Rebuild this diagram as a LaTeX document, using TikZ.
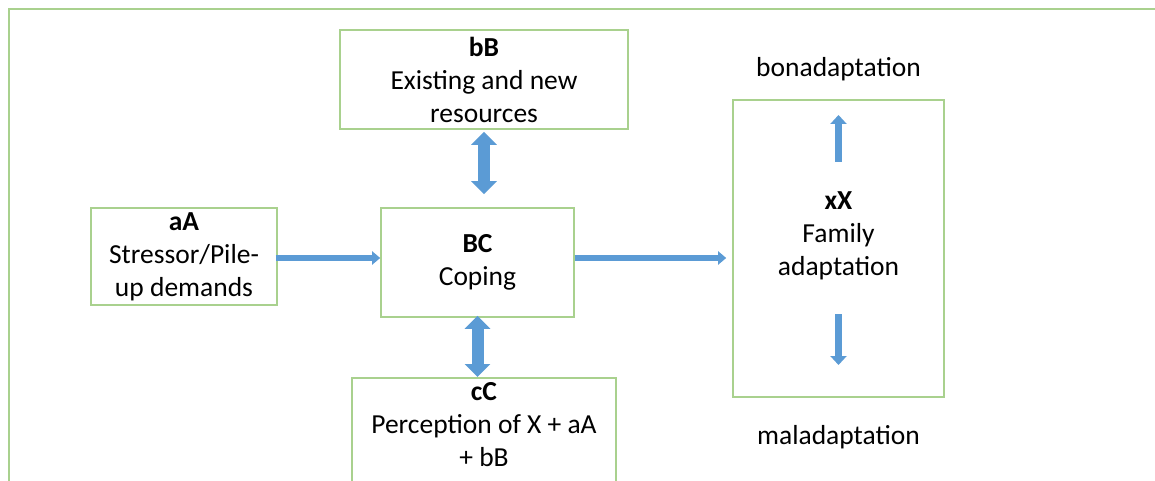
\documentclass[tikz,border=0pt]{standalone}
\usepackage{fontspec}
\setmainfont{Carlito}
\usetikzlibrary{arrows.meta}
\definecolor{boxgreen}{HTML}{A9D18E}
\definecolor{arrowblue}{HTML}{5B9BD5}
\begin{document}
\begin{tikzpicture}[x=1pt,y=-1pt,
  txt/.style={align=center, inner sep=0pt, font=\fontsize{27.5}{33}\selectfont},
  box/.style={txt, draw=boxgreen, line width=1.6pt},
  frame/.style={draw=boxgreen, line width=2pt},
  dblarrow/.style={draw=arrowblue, line width=12pt,
    {Triangle[width=25pt,length=13pt]}-{Triangle[width=25pt,length=13pt]}},
  flowarrow/.style={draw=arrowblue, line width=6.5pt,
    -{Triangle[width=13pt,length=8pt]}},
  smallarrow/.style={draw=arrowblue, line width=7pt,
    -{Triangle[width=16pt,length=9pt]}}
]
\useasboundingbox (0,0) rectangle (1155,481);

% outer frame, open to the right and bottom
\draw[frame] (9,490) -- (9,9) -- (1165,9);

% factor boxes
\node[box, minimum width=288pt, minimum height=99pt] (bB) at (484,79.5)
  {\textbf{bB}\\Existing and new\\resources};
\node[box, minimum width=186pt, minimum height=97pt] (aA) at (184,256.5)
  {\textbf{aA}\\Stressor/Pile-\\up demands};
\node[box, minimum width=193pt, minimum height=109pt] (BC) at (477.5,262.5)
  {\textbf{BC}\\Coping};
\node[box, minimum width=264pt, anchor=north, inner ysep=5pt, text depth=120pt] (cC) at (484,377)
  {\textbf{cC}\\Perception of X + aA\\+ bB};

% outcome box
\node[box, minimum width=211pt, minimum height=297pt] (xX) at (838.5,248.5) {};
\node[txt] (xXt) at (838.5,236) {\textbf{xX}\\Family\\adaptation};
\node[txt] (bon) at (838.5,69) {bonadaptation};
\node[txt] (mal) at (838.5,437) {maladaptation};

% connectors
\draw[dblarrow, shorten <=2pt, shorten >=13pt] (bB.south) -- (bB.south |- BC.north);
\draw[dblarrow, shorten <=-2pt] (BC.south) -- (BC.south |- cC.north);
\draw[flowarrow, shorten <=-2pt] ([yshift=-1.5pt]aA.east) -- ([yshift=-1.5pt]aA.east -| BC.west);
\draw[flowarrow, shorten >=6pt] ([yshift=4.5pt]BC.east) -- ([yshift=4.5pt]BC.east -| xX.west);

% up and down arrows inside the outcome box
\coordinate (upS) at (838.5,162);
\coordinate (upE) at (838.5,115);
\coordinate (dnS) at (838.5,314);
\coordinate (dnE) at (838.5,365);
\draw[smallarrow] (upS) -- (upE);
\draw[smallarrow] (dnS) -- (dnE);
\end{tikzpicture}
\end{document}
